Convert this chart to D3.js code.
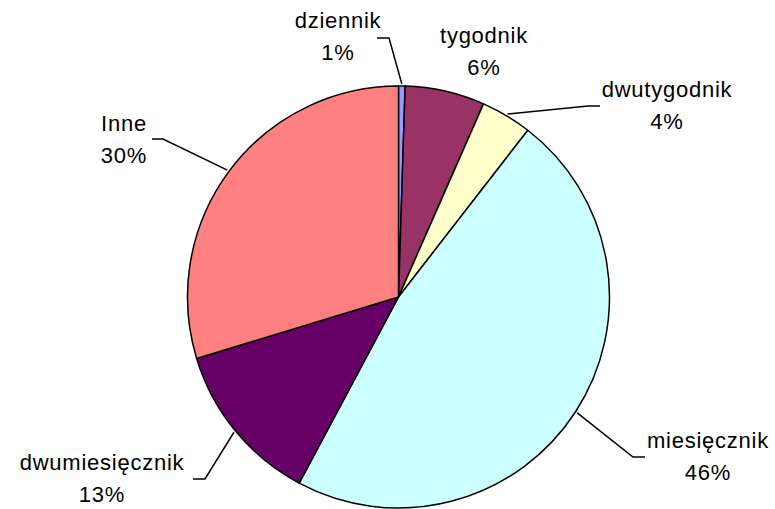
<!DOCTYPE html>
<html>
<head>
<meta charset="utf-8">
<script src="https://cdn.jsdelivr.net/npm/d3@7/dist/d3.min.js"></script>
<style>
  html, body { margin: 0; padding: 0; background: #fff; }
  svg { display: block; }
  text { font-family: "Liberation Sans", Arial, sans-serif; font-size: 22px; fill: #000; letter-spacing: 0.75px; }
</style>
</head>
<body>
<svg id="chart" width="775" height="509"></svg>
<script>
// ---- data ----
const categories = ["dziennik", "tygodnik", "dwutygodnik", "miesięcznik", "dwumiesięcznik", "Inne"];
const values = [0.5, 6.1, 3.9, 47.3, 12.5, 29.7];
const percentLabels = ["1%", "6%", "4%", "46%", "13%", "30%"];
const colors = ["#9999FF", "#993366", "#FFFFCC", "#CCFFFF", "#660066", "#FF8080"];

// ---- layout (positions of labels / leader elbows) ----
const cx = 398.5, cy = 297, R = 211;
const labelLayout = [
  { x: 338, y: 28, elbow: [389, 38], end: [377, 38] },
  { x: 484, y: 43, elbow: null, end: null },
  { x: 667, y: 97, elbow: [588, 106], end: [600, 106] },
  { x: 708, y: 448, elbow: [633, 457], end: [645, 457] },
  { x: 102, y: 470, elbow: [205, 479], end: [193, 479] },
  { x: 124, y: 131, elbow: [163, 139], end: [152, 139] }
];

const svg = d3.select("#chart");
const g = svg.append("g").attr("transform", `translate(${cx},${cy})`);

const pie = d3.pie().sort(null).value(d => d.v);
const arcs = pie(categories.map((c, i) => ({ c, v: values[i], i })));
const arc = d3.arc().innerRadius(0).outerRadius(R);

g.selectAll("path.slice")
  .data(arcs)
  .enter().append("path")
  .attr("class", "slice")
  .attr("d", arc)
  .attr("fill", d => colors[d.data.i])
  .attr("stroke", "#000")
  .attr("stroke-width", 1.5)
  .attr("stroke-linejoin", "round");

// leader lines
arcs.forEach(d => {
  const L = labelLayout[d.data.i];
  if (!L.elbow) return;
  const mid = (d.startAngle + d.endAngle) / 2;
  const px = cx + (R + 2) * Math.sin(mid);
  const py = cy - (R + 2) * Math.cos(mid);
  svg.append("polyline")
    .attr("points", `${px},${py} ${L.elbow[0]},${L.elbow[1]} ${L.end[0]},${L.end[1]}`)
    .attr("fill", "none")
    .attr("stroke", "#000")
    .attr("stroke-width", 1.5);
});

// labels
arcs.forEach(d => {
  const L = labelLayout[d.data.i];
  const t = svg.append("text").attr("text-anchor", "middle");
  t.append("tspan").attr("x", L.x).attr("y", L.y).text(categories[d.data.i]);
  t.append("tspan").attr("x", L.x).attr("y", L.y + 31.5).text(percentLabels[d.data.i]);
});
</script>
</body>
</html>
